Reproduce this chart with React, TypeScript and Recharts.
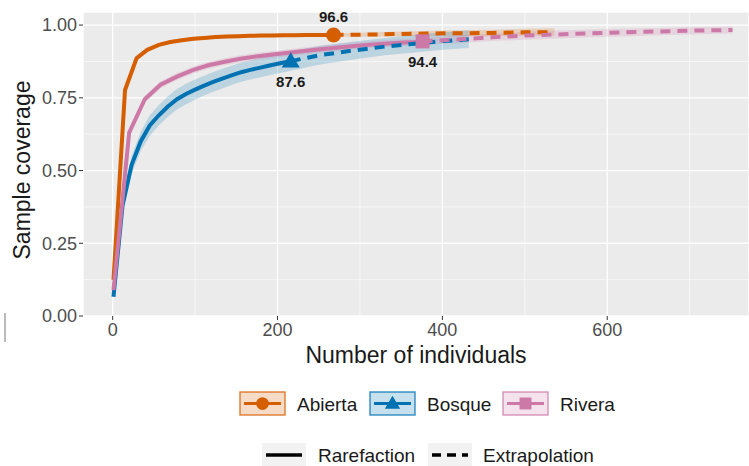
import React from "react";
import {
  ComposedChart,
  Line,
  Area,
  XAxis,
  YAxis,
  CartesianGrid,
} from "recharts";

// Abierta (open habitat)
const abiertaRareM = [1, 15, 29, 42, 56, 70, 84, 98, 111, 125, 139, 153, 166, 180, 194, 208, 221, 235, 249, 263, 268];
const abiertaRareC = [0.124, 0.777, 0.886, 0.915, 0.932, 0.942, 0.948, 0.953, 0.956, 0.959, 0.961, 0.962, 0.963, 0.964, 0.964, 0.965, 0.965, 0.966, 0.966, 0.966, 0.966];
const abiertaRareLo = [0.124, 0.77, 0.879, 0.909, 0.926, 0.936, 0.942, 0.947, 0.95, 0.953, 0.955, 0.956, 0.957, 0.958, 0.958, 0.959, 0.959, 0.96, 0.96, 0.96, 0.96];
const abiertaRareHi = [0.124, 0.784, 0.893, 0.921, 0.938, 0.948, 0.954, 0.959, 0.962, 0.965, 0.967, 0.968, 0.969, 0.97, 0.97, 0.971, 0.971, 0.972, 0.972, 0.972, 0.972];
const abiertaExtM = [268, 300, 340, 380, 420, 460, 500, 536];
const abiertaExtC = [0.966, 0.967, 0.969, 0.971, 0.972, 0.973, 0.975, 0.976];
const abiertaExtLo = [0.96, 0.96, 0.961, 0.962, 0.962, 0.962, 0.963, 0.963];
const abiertaExtHi = [0.972, 0.974, 0.977, 0.98, 0.982, 0.984, 0.987, 0.989];

// Bosque (forest)
const bosqueRareM = [1, 12, 23, 34, 45, 56, 67, 78, 89, 100, 111, 122, 133, 145, 156, 167, 178, 189, 200, 211, 216];
const bosqueRareC = [0.066, 0.38, 0.52, 0.6, 0.655, 0.69, 0.72, 0.745, 0.763, 0.778, 0.792, 0.805, 0.816, 0.828, 0.838, 0.846, 0.853, 0.86, 0.867, 0.873, 0.876];
const bosqueRareLo = [0.066, 0.36, 0.49, 0.567, 0.62, 0.655, 0.685, 0.71, 0.728, 0.743, 0.758, 0.771, 0.782, 0.795, 0.805, 0.813, 0.82, 0.827, 0.834, 0.84, 0.843];
const bosqueRareHi = [0.066, 0.4, 0.55, 0.633, 0.69, 0.725, 0.755, 0.78, 0.798, 0.813, 0.826, 0.839, 0.85, 0.861, 0.871, 0.879, 0.886, 0.893, 0.9, 0.906, 0.909];
const bosqueExtM = [216, 250, 290, 330, 370, 400, 432];
const bosqueExtC = [0.876, 0.896, 0.912, 0.926, 0.937, 0.945, 0.951];
const bosqueExtLo = [0.843, 0.864, 0.881, 0.896, 0.907, 0.915, 0.921];
const bosqueExtHi = [0.909, 0.928, 0.943, 0.956, 0.967, 0.975, 0.981];

// Rivera (riverside)
const riveraRareM = [1, 20, 39, 58, 78, 97, 116, 136, 155, 174, 194, 213, 232, 252, 271, 290, 309, 329, 348, 367, 376];
const riveraRareC = [0.089, 0.63, 0.745, 0.795, 0.823, 0.845, 0.862, 0.874, 0.884, 0.892, 0.899, 0.905, 0.911, 0.917, 0.922, 0.927, 0.932, 0.936, 0.939, 0.942, 0.944];
const riveraRareLo = [0.089, 0.618, 0.733, 0.783, 0.811, 0.833, 0.85, 0.862, 0.872, 0.88, 0.887, 0.893, 0.899, 0.905, 0.91, 0.915, 0.92, 0.924, 0.927, 0.93, 0.932];
const riveraRareHi = [0.089, 0.642, 0.757, 0.807, 0.835, 0.857, 0.874, 0.886, 0.896, 0.904, 0.911, 0.917, 0.923, 0.929, 0.934, 0.939, 0.944, 0.948, 0.951, 0.954, 0.956];
const riveraExtM = [376, 420, 460, 500, 540, 580, 620, 660, 700, 752];
const riveraExtC = [0.944, 0.951, 0.958, 0.964, 0.968, 0.972, 0.975, 0.978, 0.981, 0.983];
const riveraExtLo = [0.932, 0.938, 0.945, 0.95, 0.954, 0.958, 0.961, 0.965, 0.968, 0.971];
const riveraExtHi = [0.956, 0.964, 0.971, 0.977, 0.981, 0.985, 0.988, 0.99, 0.993, 0.995];

const xTicks = [0, 200, 400, 600];
const xMinor = [100, 300, 500, 700];
const yTicks = [0, 0.25, 0.5, 0.75, 1];
const yMinor = [0.125, 0.375, 0.625, 0.875];

const legendSites = ["Abierta", "Bosque", "Rivera"];
const legendTypes = ["Rarefaction", "Extrapolation"];

const X_DOMAIN: [number, number] = [-36, 772];
const Y_DOMAIN: [number, number] = [0, 1.045];

const FONT = "'Liberation Sans', Arial, sans-serif";
const COLORS: Record<string, string> = { a: "#D55E00", b: "#0072B2", r: "#CC79A7" };

type Row = Record<string, any>;

function buildRows(): Row[] {
  const map = new Map<number, Row>();
  const get = (x: number) => {
    if (!map.has(x)) map.set(x, { x });
    return map.get(x)!;
  };
  const add = (key: string, ms: number[], cs: number[], lo: number[], hi: number[], kind: "R" | "E") => {
    ms.forEach((m, i) => {
      const row = get(m);
      row[key + kind] = cs[i];
      row[key + "Band"] = [lo[i], hi[i]];
    });
  };
  add("a", abiertaRareM, abiertaRareC, abiertaRareLo, abiertaRareHi, "R");
  add("a", abiertaExtM, abiertaExtC, abiertaExtLo, abiertaExtHi, "E");
  add("b", bosqueRareM, bosqueRareC, bosqueRareLo, bosqueRareHi, "R");
  add("b", bosqueExtM, bosqueExtC, bosqueExtLo, bosqueExtHi, "E");
  add("r", riveraRareM, riveraRareC, riveraRareLo, riveraRareHi, "R");
  add("r", riveraExtM, riveraExtC, riveraExtLo, riveraExtHi, "E");
  // observed sample size = last rarefaction knot
  get(abiertaRareM[abiertaRareM.length - 1]).aObs = abiertaRareC[abiertaRareC.length - 1];
  get(bosqueRareM[bosqueRareM.length - 1]).bObs = bosqueRareC[bosqueRareC.length - 1];
  get(riveraRareM[riveraRareM.length - 1]).rObs = riveraRareC[riveraRareC.length - 1];
  return Array.from(map.values()).sort((p, q) => p.x - q.x);
}

const rows = buildRows();

function Marker({ kind, cx, cy, color, size = 1 }: { kind: string; cx: number; cy: number; color: string; size?: number }) {
  if (kind === "a") return <circle cx={cx} cy={cy} r={7.5 * size} fill={color} />;
  if (kind === "b") {
    const s = 9 * size;
    return <polygon points={`${cx},${cy - s} ${cx - s},${cy + s * 0.7} ${cx + s},${cy + s * 0.7}`} fill={color} />;
  }
  const s = 7 * size;
  return <rect x={cx - s} y={cy - s} width={2 * s} height={2 * s} fill={color} />;
}

const makeObsDot = (kind: string, labelDy: number) => (props: any) => {
  const { cx, cy, value, index } = props;
  if (value == null || cx == null || cy == null) return <g key={`${kind}-${index}`} />;
  return (
    <g key={`${kind}-${index}`}>
      <Marker kind={kind} cx={cx} cy={cy} color={COLORS[kind]} />
      <text
        x={cx}
        y={cy + labelDy}
        textAnchor="middle"
        dominantBaseline="central"
        fontFamily={FONT}
        fontWeight="bold"
        fontSize={15}
        fill="#1a1a1a"
      >
        {(value * 100).toFixed(1)}
      </text>
    </g>
  );
};

// minor grid positions from the plot offset and the axis domains
const minorX = ({ offset }: any) =>
  xMinor.map((v) => offset.left + ((v - X_DOMAIN[0]) / (X_DOMAIN[1] - X_DOMAIN[0])) * offset.width);
const minorY = ({ offset }: any) =>
  yMinor.map((v) => offset.top + ((Y_DOMAIN[1] - v) / (Y_DOMAIN[1] - Y_DOMAIN[0])) * offset.height);

export default function App() {
  const keys = ["a", "b", "r"];
  return (
    <div style={{ position: "absolute", left: 0, top: 0, width: 749, height: 466, background: "#fff", overflow: "hidden" }}>
      <ComposedChart width={749} height={340} data={rows} margin={{ top: 12, right: 0, bottom: 0, left: 23 }}>
        <CartesianGrid
          fill="#EBEBEB"
          stroke="#FFFFFF"
          strokeWidth={0.6}
          verticalCoordinatesGenerator={minorX}
          horizontalCoordinatesGenerator={minorY}
        />
        <CartesianGrid stroke="#FFFFFF" strokeWidth={1.3} />
        <XAxis
          dataKey="x"
          type="number"
          domain={X_DOMAIN}
          ticks={xTicks}
          allowDataOverflow
          axisLine={false}
          tickLine={{ stroke: "#333333" }}
          tickSize={4}
          tickMargin={3}
          height={24}
          tick={{ fill: "#4D4D4D", fontSize: 18, fontFamily: FONT }}
        />
        <YAxis
          type="number"
          domain={Y_DOMAIN}
          ticks={yTicks}
          allowDataOverflow
          axisLine={false}
          tickLine={{ stroke: "#333333" }}
          tickSize={4}
          tickMargin={2}
          width={60}
          tickFormatter={(v: number) => v.toFixed(2)}
          tick={{ fill: "#4D4D4D", fontSize: 18, fontFamily: FONT }}
        />
        {keys.map((k) => (
          <Area
            key={k + "Band"}
            dataKey={k + "Band"}
            type="linear"
            fill={COLORS[k]}
            fillOpacity={0.2}
            stroke="none"
            connectNulls
            isAnimationActive={false}
            activeDot={false}
            dot={false}
          />
        ))}
        {keys.map((k) => (
          <Line
            key={k + "R"}
            dataKey={k + "R"}
            type="linear"
            stroke={COLORS[k]}
            strokeWidth={4}
            dot={false}
            activeDot={false}
            connectNulls
            isAnimationActive={false}
          />
        ))}
        {keys.map((k) => (
          <Line
            key={k + "E"}
            dataKey={k + "E"}
            type="linear"
            stroke={COLORS[k]}
            strokeWidth={4}
            strokeDasharray="10 7"
            dot={false}
            activeDot={false}
            connectNulls
            isAnimationActive={false}
          />
        ))}
        <Line dataKey="aObs" stroke="none" dot={makeObsDot("a", -18)} activeDot={false} isAnimationActive={false} />
        <Line dataKey="bObs" stroke="none" dot={makeObsDot("b", 20)} activeDot={false} isAnimationActive={false} />
        <Line dataKey="rObs" stroke="none" dot={makeObsDot("r", 20)} activeDot={false} isAnimationActive={false} />
      </ComposedChart>

      <svg width={749} height={466} style={{ position: "absolute", left: 0, top: 0, pointerEvents: "none" }}>
        <text x={416} y={355} textAnchor="middle" dominantBaseline="central" fontFamily={FONT} fontSize={23} fill="#1a1a1a">
          Number of individuals
        </text>
        <text
          x={22}
          y={170}
          textAnchor="middle"
          dominantBaseline="central"
          fontFamily={FONT}
          fontSize={23}
          fill="#1a1a1a"
          transform="rotate(-90 22 170)"
        >
          Sample coverage
        </text>
        <line x1={5} y1={313} x2={5} y2={342} stroke="#BBBBBB" strokeWidth={2} />

        {/* legend: sites */}
        {legendSites.map((name, i) => {
          const k = keys[i];
          const bx = [240, 370, 503][i];
          const tx = [297, 427, 560][i];
          const c = COLORS[k];
          return (
            <g key={name}>
              <rect x={bx} y={392} width={45} height={23} fill={c} fillOpacity={0.22} stroke={c} strokeOpacity={0.75} strokeWidth={1.5} />
              <line x1={bx + 4} y1={403.5} x2={bx + 41} y2={403.5} stroke={c} strokeWidth={3} />
              <Marker kind={k} cx={bx + 22.5} cy={403.5} color={c} size={0.85} />
              <text x={tx} y={404} dominantBaseline="central" fontFamily={FONT} fontSize={19} fill="#1a1a1a">
                {name}
              </text>
            </g>
          );
        })}

        {/* legend: method */}
        {legendTypes.map((name, i) => {
          const bx = [262, 428][i];
          const tx = [318, 483][i];
          return (
            <g key={name}>
              <rect x={bx} y={443} width={44} height={23} fill="#F2F2F2" />
              <line
                x1={bx + 4}
                y1={455}
                x2={bx + 40}
                y2={455}
                stroke="#000"
                strokeWidth={3.5}
                strokeDasharray={i === 1 ? "9 6" : undefined}
              />
              <text x={tx} y={455} dominantBaseline="central" fontFamily={FONT} fontSize={19} fill="#1a1a1a">
                {name}
              </text>
            </g>
          );
        })}
      </svg>
    </div>
  );
}
